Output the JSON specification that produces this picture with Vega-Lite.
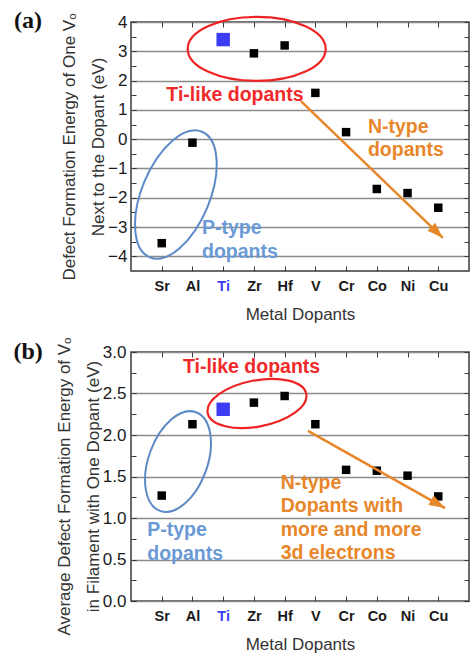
{
  "$schema": "https://vega.github.io/schema/vega-lite/v6.json",
  "background": "white",
  "padding": {"left": 12, "top": 8, "right": 0, "bottom": 0},
  "spacing": 12,
  "config": {
    "font": "Liberation Sans",
    "view": {"stroke": "#3a3a3a", "strokeWidth": 1.5},
    "axis": {
      "domain": false,
      "tickColor": "#3a3a3a",
      "tickSize": -5,
      "tickWidth": 1,
      "labelFont": "Liberation Sans",
      "labelColor": "#1a1a1a",
      "labelFontSize": 17,
      "labelFlush": false,
      "labelOverlap": false,
      "titleFont": "Liberation Sans",
      "titleColor": "#333333",
      "titleFontWeight": "normal",
      "titleFontSize": 17
    }
  },
  "datasets": {
    "formation_a": [
      {"dopant": "Sr", "pos": 1, "energy": -3.55},
      {"dopant": "Al", "pos": 2, "energy": -0.12},
      {"dopant": "Ti", "pos": 3, "energy": 3.40},
      {"dopant": "Zr", "pos": 4, "energy": 2.93},
      {"dopant": "Hf", "pos": 5, "energy": 3.20},
      {"dopant": "V", "pos": 6, "energy": 1.58},
      {"dopant": "Cr", "pos": 7, "energy": 0.24},
      {"dopant": "Co", "pos": 8, "energy": -1.70},
      {"dopant": "Ni", "pos": 9, "energy": -1.84},
      {"dopant": "Cu", "pos": 10, "energy": -2.34}
    ],
    "filament_b": [
      {"dopant": "Sr", "pos": 1, "energy": 1.27},
      {"dopant": "Al", "pos": 2, "energy": 2.13},
      {"dopant": "Ti", "pos": 3, "energy": 2.31},
      {"dopant": "Zr", "pos": 4, "energy": 2.39},
      {"dopant": "Hf", "pos": 5, "energy": 2.47},
      {"dopant": "V", "pos": 6, "energy": 2.13},
      {"dopant": "Cr", "pos": 7, "energy": 1.58},
      {"dopant": "Co", "pos": 8, "energy": 1.57},
      {"dopant": "Ni", "pos": 9, "energy": 1.51},
      {"dopant": "Cu", "pos": 10, "energy": 1.26}
    ],
    "ellipses_a": [
      {"group": "Ti-like", "cx": 4.09, "cy": 3.08},
      {"group": "P-type", "cx": 1.46, "cy": -1.89}
    ],
    "ellipses_b": [
      {"group": "Ti-like", "cx": 4.10, "cy": 2.38},
      {"group": "P-type", "cx": 1.53, "cy": 1.68}
    ],
    "arrow_a": [{"x": 5.53, "y": 1.30, "x2": 10.15, "y2": -3.37}],
    "arrow_b": [{"x": 5.76, "y": 2.05, "x2": 10.22, "y2": 1.12}],
    "labels_a": [
      {"group": "Ti-like", "label": "Ti-like dopants", "x": 1.15, "y": 1.30},
      {"group": "N-type", "label": "N-type\ndopants", "x": 7.71, "y": 0.22},
      {"group": "P-type", "label": "P-type\ndopants", "x": 2.31, "y": -3.25}
    ],
    "labels_b": [
      {"group": "Ti-like", "label": "Ti-like dopants", "x": 1.69, "y": 2.75},
      {"group": "P-type", "label": "P-type\ndopants", "x": 0.53, "y": 0.78},
      {"group": "N-type", "label": "N-type\nDopants with\nmore and more\n3d electrons", "x": 4.87, "y": 1.35}
    ]
  },
  "vconcat": [
    {
      "width": 338,
      "height": 249,
      "resolve": {"axis": {"x": "independent", "y": "independent"}},
      "layer": [
        {
          "data": {"name": "formation_a"},
          "mark": {"type": "square", "filled": true, "opacity": 1},
          "encoding": {
            "x": {"field": "pos", "type": "quantitative",
              "scale": {"domain": [0, 11], "nice": false, "zero": false},
              "axis": {"values": [1, 2, 3, 4, 5, 6, 7, 8, 9, 10],
                "labelExpr": "['','Sr','Al','Ti','Zr','Hf','V','Cr','Co','Ni','Cu'][datum.value]",
                "labelFontWeight": "bold", "labelFontSize": 14.5,
                "labelColor": {"condition": {"test": "datum.value === 3", "value": "#3c3cf5"}, "value": "#1a1a1a"},
                "grid": false, "labelPadding": 13, "title": "Metal Dopants", "titlePadding": 14}},
            "y": {"field": "energy", "type": "quantitative",
              "scale": {"domain": [-4.5, 4], "nice": false, "zero": false},
              "axis": {"orient": "left", "values": [-4, -3, -2, -1, 0, 1, 2, 3, 4],
                "format": "~g",
                "grid": true, "gridColor": "#8c8c8c", "gridWidth": 1.4, "gridOpacity": 1,
                "labelPadding": 9,
                "title": ["Defect Formation Energy of One Vₒ", "Next to the Dopant (eV)"],
                "titleLineHeight": 29, "titlePadding": 0}},
            "color": {"condition": {"test": "datum.dopant === 'Ti'", "value": "#3c3cf5"}, "value": "#000000"},
            "size": {"condition": {"test": "datum.dopant === 'Ti'", "value": 180}, "value": 72}
          }
        },
        {
          "data": {"name": "ellipses_a"},
          "transform": [{"filter": "datum.group === 'Ti-like'"}],
          "mark": {"type": "point", "shape": "M1,0C1,0.256,0.552,0.464,0,0.464C-0.552,0.464,-1,0.256,-1,0C-1,-0.256,-0.552,-0.464,0,-0.464C0.552,-0.464,1,-0.256,1,0Z",
            "size": 19044, "filled": false, "color": "#ee2424", "strokeWidth": 2.2, "opacity": 1},
          "encoding": {
            "x": {"field": "cx", "type": "quantitative", "axis": null},
            "y": {"field": "cy", "type": "quantitative",
              "axis": {"orient": "left", "values": [-4, -3.5, -3, -2.5, -2, -1.5, -1, -0.5, 0, 0.5, 1, 1.5, 2, 2.5, 3, 3.5, 4], "labels": false, "grid": false, "title": null}}
          }
        },
        {
          "data": {"name": "ellipses_a"},
          "transform": [{"filter": "datum.group === 'P-type'"}],
          "mark": {"type": "point", "shape": "M0.5,0C0.5,0.552,0.276,1,0,1C-0.276,1,-0.5,0.552,-0.5,0C-0.5,-0.552,-0.276,-1,0,-1C0.276,-1,0.5,-0.552,0.5,0Z",
            "size": 18496, "angle": 22.6, "filled": false, "color": "#5b8ac6", "strokeWidth": 2, "opacity": 1},
          "encoding": {
            "x": {"field": "cx", "type": "quantitative", "axis": null},
            "y": {"field": "cy", "type": "quantitative", "axis": null}
          }
        },
        {
          "data": {"name": "arrow_a"},
          "mark": {"type": "rule", "color": "#e8862a", "strokeWidth": 2.5},
          "encoding": {
            "x": {"field": "x", "type": "quantitative",
              "axis": {"orient": "top", "values": [1, 2, 3, 4, 5, 6, 7, 8, 9, 10], "labels": false, "grid": false, "title": null}},
            "y": {"field": "y", "type": "quantitative",
              "axis": {"orient": "right", "values": [-4, -3.5, -3, -2.5, -2, -1.5, -1, -0.5, 0, 0.5, 1, 1.5, 2, 2.5, 3, 3.5, 4], "labels": false, "grid": false, "title": null}},
            "x2": {"field": "x2"},
            "y2": {"field": "y2"}
          }
        },
        {
          "data": {"name": "arrow_a"},
          "mark": {"type": "point", "shape": "M0,0L0.55,1.6L-0.55,1.6Z", "size": 400, "angle": 134, "filled": true, "color": "#e8862a", "opacity": 1},
          "encoding": {
            "x": {"field": "x2", "type": "quantitative", "axis": null},
            "y": {"field": "y2", "type": "quantitative", "axis": null}
          }
        },
        {
          "data": {"name": "labels_a"},
          "mark": {"type": "text", "align": "left", "baseline": "alphabetic", "fontSize": 19.5, "fontWeight": "bold", "lineBreak": "\n", "lineHeight": 23.5},
          "encoding": {
            "x": {"field": "x", "type": "quantitative", "axis": null},
            "y": {"field": "y", "type": "quantitative", "axis": null},
            "text": {"field": "label"},
            "color": {"field": "group", "type": "nominal",
              "scale": {"domain": ["Ti-like", "P-type", "N-type"], "range": ["#f02a2a", "#6a9ad6", "#e8862a"]}, "legend": null}
          }
        },
        {
          "data": {"values": [{"tag": "(a)", "x": -3.35, "y": 4.03}]},
          "mark": {"type": "text", "font": "Liberation Serif", "fontWeight": "bold", "fontSize": 24, "align": "center", "baseline": "middle", "color": "#111111"},
          "encoding": {
            "x": {"field": "x", "type": "quantitative", "axis": null},
            "y": {"field": "y", "type": "quantitative", "axis": null},
            "text": {"field": "tag"}
          }
        }
      ]
    },
    {
      "width": 338,
      "height": 249,
      "resolve": {"axis": {"x": "independent", "y": "independent"}},
      "layer": [
        {
          "data": {"name": "filament_b"},
          "mark": {"type": "square", "filled": true, "opacity": 1},
          "encoding": {
            "x": {"field": "pos", "type": "quantitative",
              "scale": {"domain": [0, 11], "nice": false, "zero": false},
              "axis": {"values": [1, 2, 3, 4, 5, 6, 7, 8, 9, 10],
                "labelExpr": "['','Sr','Al','Ti','Zr','Hf','V','Cr','Co','Ni','Cu'][datum.value]",
                "labelFontWeight": "bold", "labelFontSize": 14.5,
                "labelColor": {"condition": {"test": "datum.value === 3", "value": "#3c3cf5"}, "value": "#1a1a1a"},
                "grid": false, "labelPadding": 13, "title": "Metal Dopants", "titlePadding": 14}},
            "y": {"field": "energy", "type": "quantitative",
              "scale": {"domain": [0, 3], "nice": false, "zero": false},
              "axis": {"orient": "left", "values": [0, 0.5, 1, 1.5, 2, 2.5, 3],
                "format": ".1f",
                "grid": true, "gridColor": "#8c8c8c", "gridWidth": 1.4, "gridOpacity": 1,
                "labelPadding": 10,
                "title": ["Average Defect Formation Energy of Vₒ", "in Filament with One Dopant (eV)"],
                "titleLineHeight": 29, "titlePadding": 0, "titleY": 134}},
            "color": {"condition": {"test": "datum.dopant === 'Ti'", "value": "#3c3cf5"}, "value": "#000000"},
            "size": {"condition": {"test": "datum.dopant === 'Ti'", "value": 180}, "value": 72}
          }
        },
        {
          "data": {"name": "ellipses_b"},
          "transform": [{"filter": "datum.group === 'Ti-like'"}],
          "mark": {"type": "point", "shape": "M1,0C1,0.254,0.552,0.46,0,0.46C-0.552,0.46,-1,0.254,-1,0C-1,-0.254,-0.552,-0.46,0,-0.46C0.552,-0.46,1,-0.254,1,0Z",
            "size": 10080, "angle": 349, "filled": false, "color": "#ee2424", "strokeWidth": 2.2, "opacity": 1},
          "encoding": {
            "x": {"field": "cx", "type": "quantitative", "axis": null},
            "y": {"field": "cy", "type": "quantitative",
              "axis": {"orient": "left", "values": [0, 0.25, 0.5, 0.75, 1, 1.25, 1.5, 1.75, 2, 2.25, 2.5, 2.75, 3], "labels": false, "grid": false, "title": null}}
          }
        },
        {
          "data": {"name": "ellipses_b"},
          "transform": [{"filter": "datum.group === 'P-type'"}],
          "mark": {"type": "point", "shape": "M0.56,0C0.56,0.552,0.309,1,0,1C-0.309,1,-0.56,0.552,-0.56,0C-0.56,-0.552,-0.309,-1,0,-1C0.309,-1,0.56,-0.552,0.56,0Z",
            "size": 11025, "angle": 20, "filled": false, "color": "#5b8ac6", "strokeWidth": 2, "opacity": 1},
          "encoding": {
            "x": {"field": "cx", "type": "quantitative", "axis": null},
            "y": {"field": "cy", "type": "quantitative", "axis": null}
          }
        },
        {
          "data": {"name": "arrow_b"},
          "mark": {"type": "rule", "color": "#e8862a", "strokeWidth": 2.5},
          "encoding": {
            "x": {"field": "x", "type": "quantitative",
              "axis": {"orient": "top", "values": [1, 2, 3, 4, 5, 6, 7, 8, 9, 10], "labels": false, "grid": false, "title": null}},
            "y": {"field": "y", "type": "quantitative",
              "axis": {"orient": "right", "values": [0, 0.25, 0.5, 0.75, 1, 1.25, 1.5, 1.75, 2, 2.25, 2.5, 2.75, 3], "labels": false, "grid": false, "title": null}},
            "x2": {"field": "x2"},
            "y2": {"field": "y2"}
          }
        },
        {
          "data": {"name": "arrow_b"},
          "mark": {"type": "point", "shape": "M0,0L0.55,1.6L-0.55,1.6Z", "size": 400, "angle": 119, "filled": true, "color": "#e8862a", "opacity": 1},
          "encoding": {
            "x": {"field": "x2", "type": "quantitative", "axis": null},
            "y": {"field": "y2", "type": "quantitative", "axis": null}
          }
        },
        {
          "data": {"name": "labels_b"},
          "mark": {"type": "text", "align": "left", "baseline": "alphabetic", "fontSize": 19.5, "fontWeight": "bold", "lineBreak": "\n", "lineHeight": 23.5},
          "encoding": {
            "x": {"field": "x", "type": "quantitative", "axis": null},
            "y": {"field": "y", "type": "quantitative", "axis": null},
            "text": {"field": "label"},
            "color": {"field": "group", "type": "nominal",
              "scale": {"domain": ["Ti-like", "P-type", "N-type"], "range": ["#f02a2a", "#6a9ad6", "#e8862a"]}, "legend": null}
          }
        },
        {
          "data": {"values": [{"tag": "(b)", "x": -3.35, "y": 3.0}]},
          "mark": {"type": "text", "font": "Liberation Serif", "fontWeight": "bold", "fontSize": 24, "align": "center", "baseline": "middle", "color": "#111111"},
          "encoding": {
            "x": {"field": "x", "type": "quantitative", "axis": null},
            "y": {"field": "y", "type": "quantitative", "axis": null},
            "text": {"field": "tag"}
          }
        }
      ]
    }
  ]
}
